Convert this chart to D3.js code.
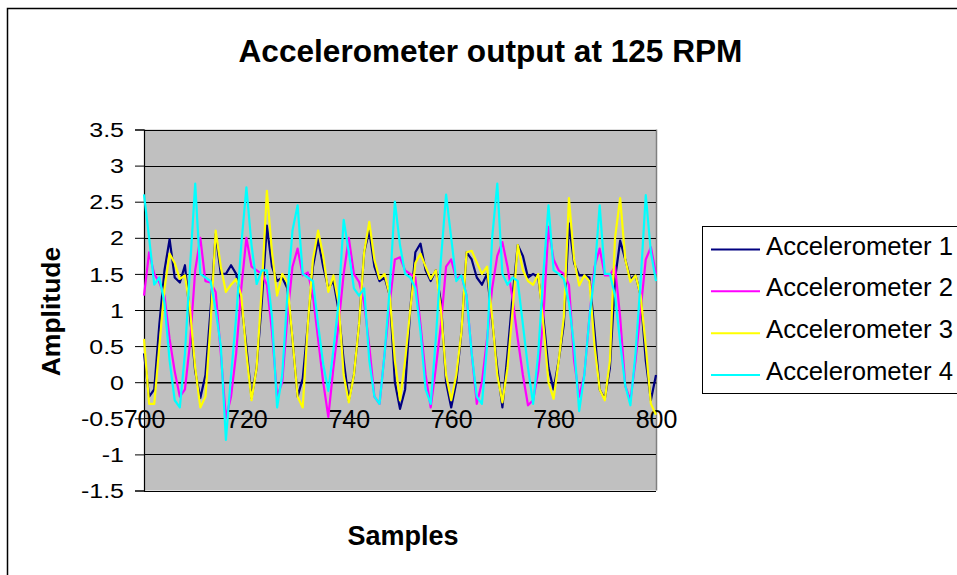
<!DOCTYPE html>
<html>
<head>
<meta charset="utf-8">
<script src="https://cdn.jsdelivr.net/npm/d3@7"></script>
<style>
  html, body { margin: 0; padding: 0; background: #fff; }
  svg { display: block; }
  text { font-family: "Liberation Sans", Arial, sans-serif; fill: #000; }
</style>
</head>
<body>
<svg id="chart" width="957" height="575"></svg>
<script>
const firstSample = 700;
const lastSample = 800;
const xTicks = [700, 720, 740, 760, 780, 800];
const yTicks = [-1.5, -1, -0.5, 0, 0.5, 1, 1.5, 2, 2.5, 3, 3.5];
const seriesNames = ["Accelerometer 1", "Accelerometer 2", "Accelerometer 3", "Accelerometer 4"];
const seriesColors = ["#000080", "#FF00FF", "#FFFF00", "#00FFFF"];

const acc1 = [0.4,-0.2,-0.1,0.8,1.55,1.98,1.45,1.38,1.62,0.9,
  0.15,-0.22,0.1,1.0,2.05,1.5,1.5,1.62,1.5,1.1,
  0.5,-0.22,0.2,1.1,2.17,1.6,1.4,1.45,1.3,0.6,
  -0.2,0.05,0.8,1.6,1.98,1.6,1.3,1.4,1.0,0.3,
  -0.25,0.1,0.8,1.8,2.1,1.6,1.4,1.45,1.2,0.0,
  -0.37,-0.1,1.0,1.8,1.92,1.55,1.4,1.55,1.1,0.0,
  -0.35,0.0,0.7,1.8,1.7,1.45,1.35,1.5,0.85,0.2,
  -0.35,0.4,1.2,1.9,1.75,1.45,1.5,1.45,0.9,0.2,
  -0.1,0.3,0.8,2.2,1.65,1.48,1.48,1.45,0.7,-0.1,
  -0.23,0.2,1.43,1.96,1.7,1.43,1.48,1.2,0.3,-0.25,
  0.1];
const acc2 = [1.2,1.8,1.5,1.38,1.2,0.6,0.15,-0.2,-0.1,0.55,
  1.55,2.0,1.4,1.38,1.25,0.4,-0.5,-0.2,0.4,1.3,
  2.0,1.6,1.55,1.5,1.35,0.7,-0.2,0.0,0.9,1.6,
  1.85,1.48,1.52,1.2,0.6,0.0,-0.48,0.2,0.8,1.5,
  2.0,1.5,1.39,1.1,0.5,-0.2,-0.3,0.4,1.1,1.7,
  1.73,1.55,1.5,1.45,0.8,0.1,-0.35,0.2,0.8,1.6,
  1.7,1.43,1.48,1.2,0.4,-0.3,0.0,0.6,1.3,1.75,
  1.94,1.6,1.15,0.6,0.1,-0.32,-0.25,0.15,0.9,2.15,
  1.7,1.55,1.5,1.35,0.3,-0.2,0.1,0.9,1.6,1.85,
  1.48,1.48,1.6,0.9,-0.05,-0.25,0.3,1.0,1.7,1.87,
  1.5];
const acc3 = [0.6,-0.3,-0.3,0.5,1.3,1.78,1.65,1.43,1.48,1.0,
  0.2,-0.35,-0.2,0.8,2.1,1.6,1.25,1.35,1.43,1.2,
  0.4,-0.25,0.2,1.3,2.65,1.8,1.2,1.5,1.38,0.6,
  -0.2,-0.35,0.8,1.7,2.1,1.75,1.25,1.48,1.1,0.1,
  -0.28,0.1,0.8,1.8,2.22,1.7,1.43,1.5,1.2,0.3,
  -0.25,0.3,1.0,1.65,1.78,1.6,1.43,1.55,1.0,0.1,
  -0.25,0.1,0.7,1.8,1.82,1.66,1.5,1.6,0.9,0.1,
  -0.28,0.2,1.0,1.9,1.55,1.4,1.35,1.5,0.8,0.0,
  -0.23,0.3,0.9,2.55,1.7,1.34,1.48,1.4,0.5,-0.1,
  -0.25,0.3,2.0,2.55,1.7,1.39,1.48,1.2,0.5,-0.3,
  -0.45];
const acc4 = [2.6,2.0,1.35,1.45,1.1,0.3,-0.25,-0.35,0.4,1.6,
  2.75,1.5,1.45,1.4,1.0,0.5,-0.8,0.1,0.9,1.9,
  2.7,1.9,1.36,1.55,1.55,0.9,-0.35,0.1,1.2,2.1,
  2.45,1.5,1.45,1.4,0.8,0.25,-0.12,0.45,1.1,2.25,
  1.8,1.3,1.2,1.3,0.3,-0.2,-0.3,0.4,1.3,2.5,
  1.9,1.5,1.45,1.3,0.7,-0.1,-0.3,0.6,1.7,2.6,
  2.0,1.4,1.48,1.2,0.4,-0.2,-0.3,0.5,2.0,2.75,
  1.5,1.35,1.45,1.4,0.8,0.2,-0.3,0.4,1.5,2.45,
  1.55,1.5,1.43,1.1,0.5,-0.4,0.1,0.9,1.5,2.45,
  1.5,1.5,1.2,0.55,-0.05,-0.32,0.4,1.4,2.59,1.8,
  1.4];
const seriesValues = [acc1, acc2, acc3, acc4];

const svg = d3.select("#chart");
const W = 957, H = 575;
const plot = { left: 144, right: 656, top: 129.5, bottom: 490.5 };

// outer chart border
svg.append("rect").attr("x", 7.5).attr("y", 8.5).attr("width", W + 10).attr("height", H + 10)
  .attr("fill", "#fff").attr("stroke", "#000").attr("stroke-width", 1.5);

const x = d3.scaleLinear().domain([firstSample, lastSample]).range([plot.left, plot.right]);
const y = d3.scaleLinear().domain([-1.5, 3.5]).range([plot.bottom, plot.top]);

// plot area
svg.append("rect").attr("x", plot.left).attr("y", plot.top)
  .attr("width", plot.right - plot.left).attr("height", plot.bottom - plot.top)
  .attr("fill", "#C0C0C0");
svg.append("line").attr("x1", plot.right + 0.5).attr("x2", plot.right + 0.5)
  .attr("y1", plot.top).attr("y2", plot.bottom).attr("stroke", "#808080").attr("stroke-width", 1.5);

// gridlines
svg.append("g").selectAll("line").data(yTicks).join("line")
  .attr("x1", plot.left).attr("x2", plot.right)
  .attr("y1", d => Math.round(y(d)) + 0.5).attr("y2", d => Math.round(y(d)) + 0.5)
  .attr("stroke", "#000").attr("stroke-width", 1);

// y axis
const yAxis = d3.axisLeft(y).tickValues(yTicks).tickSize(9).tickPadding(11)
  .tickFormat(d => String(d));
const gy = svg.append("g").attr("transform", `translate(${plot.left},0)`).call(yAxis);
gy.select(".domain").attr("stroke", "#000").attr("stroke-width", 1.2);
gy.selectAll(".tick line").attr("stroke", "#000");
gy.selectAll(".tick text").attr("font-size", 25).attr("font-family", "Liberation Sans, Arial, sans-serif")
  .attr("fill", "#000").attr("dy", null).attr("y", 0)
  .attr("dominant-baseline", "central")
  .attr("transform", "scale(1,0.82)");

// x axis (category axis crossing at 0)
const xAxis = d3.axisBottom(x).tickValues(xTicks).tickSize(0).tickPadding(10)
  .tickFormat(d => String(d));
const gx = svg.append("g").attr("transform", `translate(0,${Math.round(y(0)) + 0.5})`).call(xAxis);
gx.select(".domain").attr("stroke", "#000").attr("stroke-width", 1);
gx.selectAll(".tick text").attr("font-size", 25).attr("font-family", "Liberation Sans, Arial, sans-serif")
  .attr("fill", "#000").attr("dy", null).attr("y", 45);

// series lines
const line = d3.line().x((d, i) => x(firstSample + i)).y(d => y(d));
svg.append("g").selectAll("path").data(seriesValues).join("path")
  .attr("d", d => line(d))
  .attr("fill", "none")
  .attr("stroke", (d, i) => seriesColors[i])
  .attr("stroke-width", 2.2)
  .attr("stroke-linejoin", "round");

// title
svg.append("text").attr("x", 490.5).attr("y", 62).attr("text-anchor", "middle")
  .attr("font-size", 31.6).attr("font-weight", "bold").text("Accelerometer output at 125 RPM");

// axis titles
svg.append("text").attr("transform", "translate(60,311.5) rotate(-90)").attr("text-anchor", "middle")
  .attr("font-size", 26.5).attr("font-weight", "bold").text("Amplitude");
svg.append("text").attr("x", 403).attr("y", 545).attr("text-anchor", "middle")
  .attr("font-size", 27).attr("font-weight", "bold").text("Samples");

// legend
const legend = svg.append("g");
legend.append("rect").attr("x", 702.5).attr("y", 226.5).attr("width", 300).attr("height", 167)
  .attr("fill", "#fff").attr("stroke", "#000").attr("stroke-width", 1);
const legendY = d3.scalePoint().domain(seriesNames).range([249.5, 375]);
const items = legend.selectAll("g.item").data(seriesNames).join("g").attr("class", "item")
  .attr("transform", d => `translate(0,${legendY(d)})`);
items.append("line").attr("x1", 711).attr("x2", 760).attr("y1", 0).attr("y2", 0)
  .attr("stroke", (d, i) => seriesColors[i]).attr("stroke-width", 2);
items.append("text").attr("x", 766).attr("y", 5).attr("font-size", 25.7).text(d => d);
</script>
</body>
</html>
